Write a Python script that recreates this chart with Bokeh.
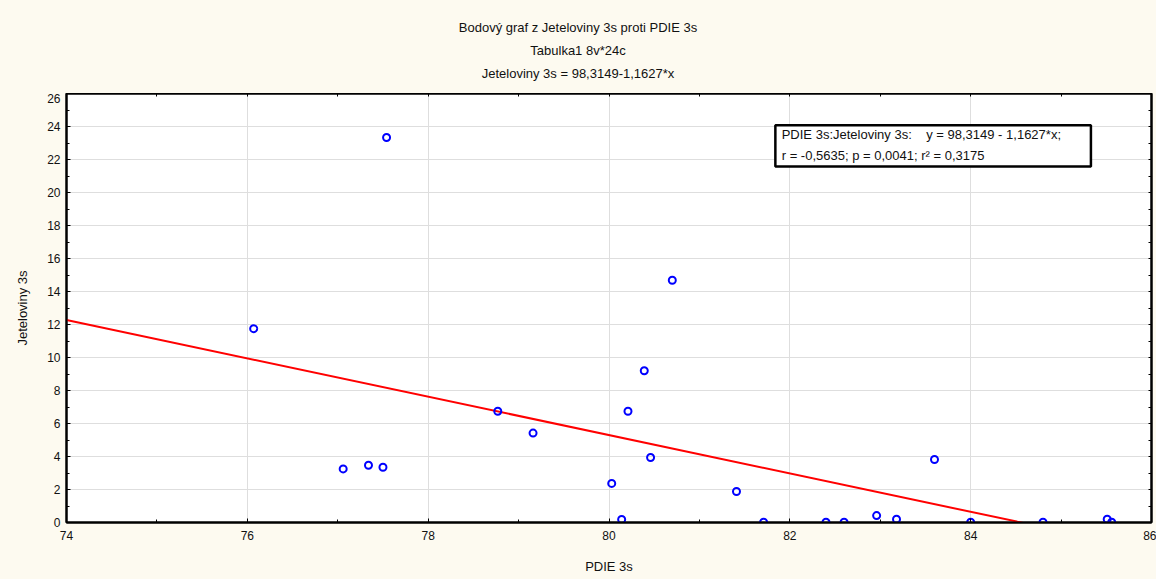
from bokeh.plotting import figure
from bokeh.models import Label, BoxAnnotation, Range1d, FixedTicker, LinearAxis, Div
from bokeh.layouts import column
from bokeh.embed import file_html
from bokeh.resources import INLINE
import numpy as np

# Data
pdie = [76.07, 77.06, 77.34, 77.50, 77.54, 78.77, 79.16, 80.03, 80.14, 80.21, 80.39, 80.46,
        80.70, 81.41, 81.71, 82.40, 82.60, 82.96, 83.18, 83.60, 84.00, 84.80, 85.51, 85.56]
jetel = [11.75, 3.25, 3.47, 3.35, 23.33, 6.74, 5.42, 2.37, 0.18, 6.74, 9.20, 3.94,
         14.68, 1.88, 0.02, 0.02, 0.02, 0.42, 0.20, 3.82, 0.02, 0.02, 0.20, 0.02]
intercept = 98.3149
slope = -1.1627
x_ticks = [74, 76, 78, 80, 82, 84, 86]
y_ticks = list(range(0, 27, 2))
titles = ["Bodový graf z Jeteloviny 3s proti PDIE 3s",
          "Tabulka1 8v*24c",
          "Jeteloviny 3s = 98,3149-1,1627*x"]

FONT = "Liberation Sans"
BG = "#FDFAF0"
NB = "\u00a0"
W, H = 1156, 579
HEAD = 93

# Title block
lines = "".join(
    f'<div style="height:23px;line-height:23px;text-align:center;white-space:nowrap;">{t}</div>'
    for t in titles)
head = Div(text=f'<div style="padding-top:16px;padding-left:10px;width:1146px;'
                f'font-family:\'{FONT}\';font-size:13px;color:#111111;">{lines}</div>',
           width=W, height=HEAD, margin=0,
           styles={"background-color": BG, "overflow": "hidden"})

p = figure(width=W, height=H - HEAD, output_backend="svg", toolbar_location=None,
           x_range=Range1d(74, 86), y_range=Range1d(0, 26),
           x_axis_location=None, y_axis_location=None, margin=0,
           min_border_left=66, min_border_right=5, min_border_bottom=57, min_border_top=0)
p.background_fill_color = "white"
p.border_fill_color = BG
p.outline_line_color = "black"
p.outline_line_width = 2

# Main axes
xax = LinearAxis(ticker=FixedTicker(ticks=x_ticks, minor_ticks=list(range(74, 87))),
                 axis_label="PDIE 3s")
yax = LinearAxis(ticker=FixedTicker(ticks=y_ticks, minor_ticks=list(range(0, 27))),
                 axis_label="Jeteloviny 3s")
for ax in (xax, yax):
    ax.axis_line_color = "black"
    ax.axis_line_width = 2
    ax.major_tick_in = 4
    ax.major_tick_out = 0
    ax.minor_tick_in = 3
    ax.minor_tick_out = 0
    ax.major_tick_line_color = "black"
    ax.minor_tick_line_color = "black"
    ax.major_label_text_font = FONT
    ax.major_label_text_font_size = "12px"
    ax.major_label_text_color = "#111111"
    ax.axis_label_text_font = FONT
    ax.axis_label_text_font_size = "13px"
    ax.axis_label_text_font_style = "normal"
    ax.axis_label_text_color = "#111111"
xax.major_label_standoff = 8
yax.major_label_standoff = 6
xax.axis_label_standoff = 16
yax.axis_label_standoff = 14
p.add_layout(xax, "below")
p.add_layout(yax, "left")

# Tick-only axes on top and right
for loc in ("above", "right"):
    ax = LinearAxis(ticker=FixedTicker(ticks=list(range(0, 100))),
                    major_label_text_font_size="1px", major_label_text_color=None,
                    axis_line_color="black", axis_line_width=2,
                    major_tick_in=3, major_tick_out=0,
                    minor_tick_line_color=None, major_tick_line_color="black",
                    major_label_standoff=0)
    p.add_layout(ax, loc)

p.xgrid.ticker = FixedTicker(ticks=x_ticks)
p.ygrid.ticker = FixedTicker(ticks=y_ticks)
p.grid.grid_line_color = "#DEDEDE"
p.grid.grid_line_width = 1

# Regression line
lx = np.array([74.0, 86.0])
p.line(lx, intercept + slope * lx, line_color="red", line_width=2)

# Points
p.scatter(pdie, jetel, marker="circle", size=7, fill_color=None,
          line_color="blue", line_width=2)

# Stats box
p.add_layout(BoxAnnotation(left=81.84, right=85.33, bottom=21.57, top=24.07,
                           fill_color="white", fill_alpha=1.0,
                           line_color="black", line_alpha=1.0, line_width=2.5))
p.add_layout(Label(x=81.91, y=23.52,
                   text="PDIE 3s:Jeteloviny 3s:" + NB * 4 + "y = 98,3149 - 1,1627*x;",
                   text_font=FONT, text_font_size="13px", text_baseline="middle",
                   text_color="#111111"))
p.add_layout(Label(x=81.91, y=22.25, text="r = -0,5635; p = 0,0041; r² = 0,3175",
                   text_font=FONT, text_font_size="13px", text_baseline="middle",
                   text_color="#111111"))

layout = column(head, p, spacing=0, margin=0, styles={"background-color": BG})
open("out.html", "w").write(file_html(layout, INLINE))
